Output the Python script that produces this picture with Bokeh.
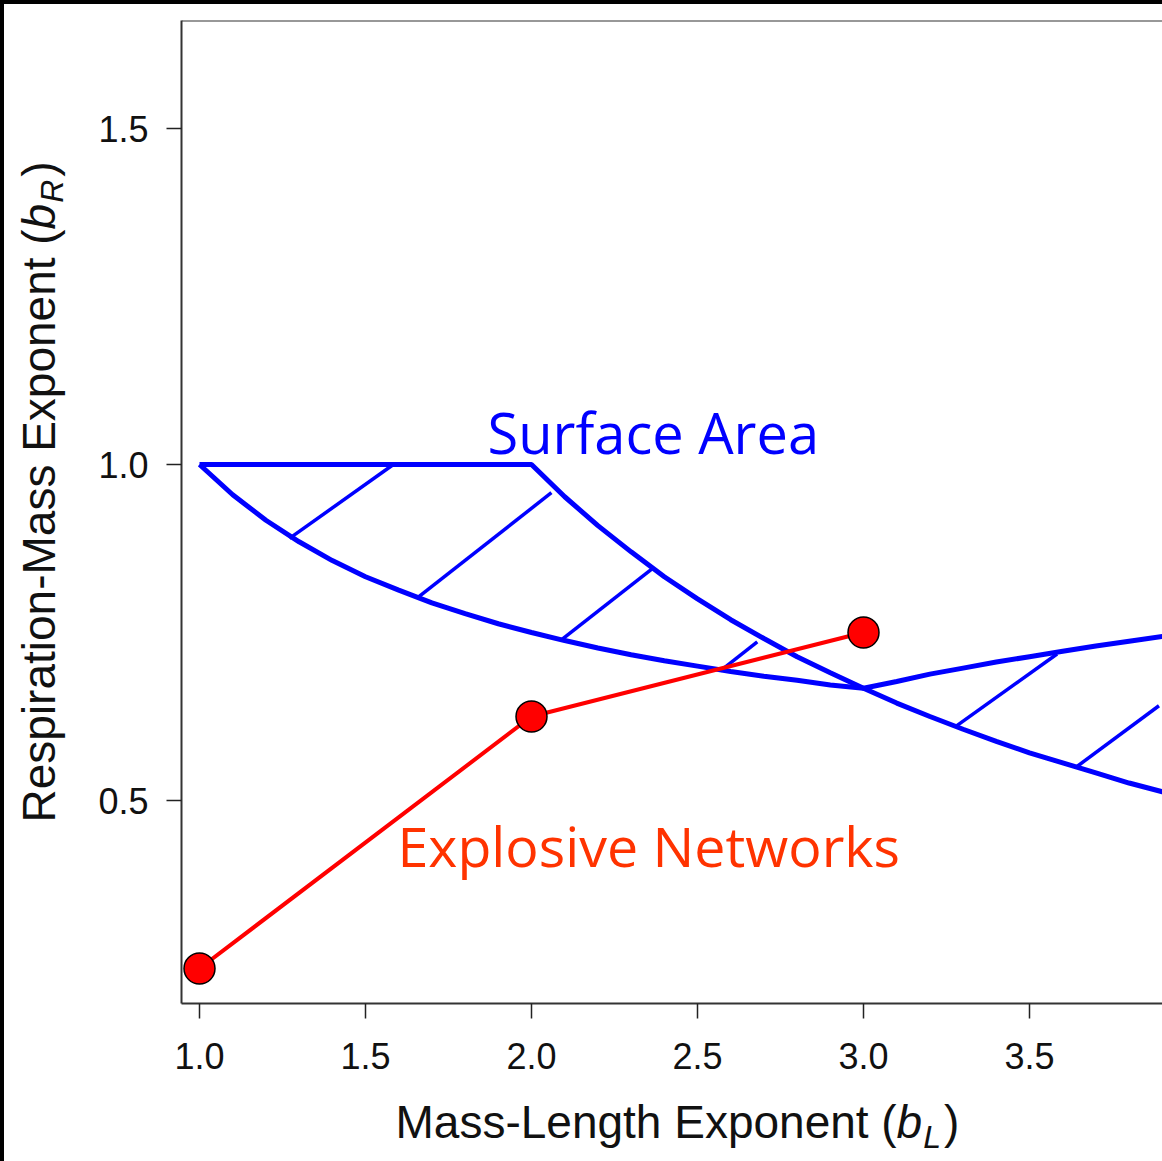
from bokeh.plotting import figure
from bokeh.models import Range1d, FixedTicker, PrintfTickFormatter, Label, Span, Div
from bokeh.layouts import column, row
from bokeh.embed import file_html
from bokeh.resources import INLINE
import math

# ---------------- data ----------------
net_x = [1.0, 2.0, 3.0]
net_y = [0.25, 0.625, 0.75]

# upper boundary of the surface-area band
upper_x = [1.0, 2.0, 2.1, 2.2, 2.3, 2.4, 2.5, 2.6, 2.7, 2.8, 2.9, 3.0,
           3.1, 3.2, 3.3, 3.4, 3.5, 3.6, 3.7, 3.8, 3.9, 4.0]
upper_y = [1.000, 1.000, 0.952, 0.909, 0.870, 0.833, 0.800, 0.769, 0.741, 0.714, 0.690, 0.667,
           0.645, 0.625, 0.606, 0.588, 0.571, 0.556, 0.541, 0.526, 0.513, 0.500]

# lower boundary of the surface-area band
lower_x = [1.0, 1.1, 1.2, 1.3, 1.4, 1.5, 1.6, 1.7, 1.8, 1.9, 2.0,
           2.1, 2.2, 2.3, 2.4, 2.5, 2.6, 2.7, 2.8, 2.9, 3.0,
           3.1, 3.2, 3.3, 3.4, 3.5, 3.6, 3.7, 3.8, 3.9, 4.0]
lower_y = [1.000, 0.955, 0.917, 0.885, 0.857, 0.833, 0.813, 0.794, 0.778, 0.763, 0.750,
           0.738, 0.727, 0.717, 0.708, 0.700, 0.692, 0.685, 0.679, 0.672, 0.667,
           0.677, 0.688, 0.697, 0.706, 0.714, 0.722, 0.730, 0.737, 0.744, 0.750]

# hatch strokes inside the band
hatch_x0 = [1.271, 1.657, 2.087, 2.569, 3.277, 3.644]
hatch_y0 = [0.890, 0.802, 0.738, 0.693, 0.610, 0.551]
hatch_x1 = [1.584, 2.060, 2.364, 2.680, 3.583, 3.890]
hatch_y1 = [1.000, 0.958, 0.845, 0.736, 0.718, 0.641]

x_ticks = [1.0, 1.5, 2.0, 2.5, 3.0, 3.5]
y_ticks = [0.5, 1.0, 1.5]

# ---------------- layout helpers (page pixel -> data) ----------------
def px2x(px):
    return 1.0 + (px - 199.0) / 332.0

def px2y(py):
    return 1.0 - (py - 464.0) / 672.0

PAGE_W, PAGE_H = 1162, 1161
BAR = 4            # black bars on top and left
MAIN_LEFT = 88     # x where the main figure starts
MAIN_BOTTOM = 1085 # y where the main figure ends
FRAME_L, FRAME_T, FRAME_B = 181, 20, 1003

BLACK = "#000000"
BLUE = "#0000FF"
RED = "#FF0000"
AX = "#333333"
TC = "#111111"

def blank(w, h, xr, yr):
    f = figure(width=w, height=h, output_backend="svg", toolbar_location=None,
               x_axis_type=None, y_axis_type=None,
               x_range=Range1d(*xr), y_range=Range1d(*yr),
               min_border=0, min_border_left=0, min_border_right=0,
               min_border_top=0, min_border_bottom=0)
    f.grid.visible = False
    f.outline_line_color = None
    f.background_fill_color = "white"
    f.border_fill_color = "white"
    return f

# ---------------- main plot ----------------
mw, mh = PAGE_W - MAIN_LEFT, MAIN_BOTTOM - BAR
p = figure(width=mw, height=mh, output_backend="svg", toolbar_location=None,
           x_range=Range1d(px2x(FRAME_L), px2x(PAGE_W)),
           y_range=Range1d(px2y(FRAME_B), px2y(FRAME_T)),
           min_border_left=FRAME_L - MAIN_LEFT, min_border_right=0,
           min_border_top=FRAME_T - BAR, min_border_bottom=MAIN_BOTTOM - FRAME_B)
p.grid.visible = False
p.outline_line_color = None
p.background_fill_color = "white"
p.border_fill_color = "white"

for ax in (p.xaxis[0], p.yaxis[0]):
    ax.axis_line_color = AX
    ax.axis_line_width = 2
    ax.major_tick_line_color = "#222222"
    ax.major_tick_line_width = 1.5
    ax.major_tick_out = 15
    ax.major_tick_in = 0
    ax.minor_tick_line_color = None
    ax.major_label_text_font = "Liberation Sans"
    ax.major_label_text_font_size = "36px"
    ax.major_label_text_color = TC
    ax.formatter = PrintfTickFormatter(format="%.1f")

p.xaxis[0].ticker = FixedTicker(ticks=x_ticks)
p.yaxis[0].ticker = FixedTicker(ticks=y_ticks)
p.xaxis[0].major_label_standoff = 24
p.yaxis[0].major_label_standoff = 18

# top frame edge
p.add_layout(Span(location=px2y(FRAME_T), dimension="width", line_color=AX, line_width=2))

p.line(upper_x, upper_y, line_color=BLUE, line_width=5)
p.line(lower_x, lower_y, line_color=BLUE, line_width=5)
p.segment(x0=hatch_x0, y0=hatch_y0, x1=hatch_x1, y1=hatch_y1, line_color=BLUE, line_width=3.5)

p.line(net_x, net_y, line_color=RED, line_width=4)
p.scatter(net_x, net_y, marker="circle", size=31, fill_color=RED,
          line_color="black", line_width=1.5)

SHIFT = 0.41  # em offset between requested and drawn alphabetic baseline

p.add_layout(Label(x=px2x(487), y=px2y(454 - SHIFT * 56), text="Surface Area", text_font="Open Sans",
                   text_font_size="56px", text_color=BLUE, text_align="left",
                   text_baseline="alphabetic"))
p.add_layout(Label(x=px2x(397), y=px2y(868 - SHIFT * 55.5), text="Explosive Networks", text_font="Open Sans",
                   text_font_size="55.5px", text_color="#FF3300", text_align="left",
                   text_baseline="alphabetic"))

# ---------------- axis titles ----------------
FS = 46
SUB = 32

def lab(f, x, y, t, size, style="normal", angle=0.0):
    f.add_layout(Label(x=x, y=y, text=t, text_font="Liberation Sans",
                       text_font_size=f"{size}px", text_font_style=style,
                       text_color=TC, text_align="left", text_baseline="alphabetic",
                       angle=angle))

# y title figure: its frame is aligned with the main frame (page y 20..1003)
yfig = blank(MAIN_LEFT - BAR, mh, (BAR, MAIN_LEFT), (-FRAME_B, -FRAME_T))
A = math.pi / 2
base_x = 57
sub_x = 65
y0 = 822.0
by = y0 - 12.893 * FS
ry = by - 0.556 * FS - 1
cy = ry - 0.722 * SUB - 3
lab(yfig, base_x - SHIFT * FS, -y0, "Respiration-Mass Exponent (", FS, angle=A)
lab(yfig, base_x - SHIFT * FS, -by, "b", FS, "italic", angle=A)
lab(yfig, sub_x - SHIFT * SUB, -ry, "R", SUB, "italic", angle=A)
lab(yfig, base_x - SHIFT * FS, -cy, ")", FS, angle=A)

# x title figure
xh = PAGE_H - MAIN_BOTTOM
xfig = blank(PAGE_W - BAR, xh, (BAR, PAGE_W), (-PAGE_H, -MAIN_BOTTOM))
x0 = 395.0
bx = x0 + 10.894 * FS
lx = bx + 0.556 * FS + 1
rx = lx + 0.556 * SUB + 3
base_y = 1140
sub_y = 1150
lab(xfig, x0, -(base_y - SHIFT * FS), "Mass-Length Exponent (", FS)
lab(xfig, bx, -(base_y - SHIFT * FS), "b", FS, "italic")
lab(xfig, lx, -(sub_y - SHIFT * SUB), "L", SUB, "italic")
lab(xfig, rx, -(base_y - SHIFT * FS), ")", FS)

left_bar = Div(text="", width=BAR, height=PAGE_H, margin=0,
               styles={"background-color": BLACK})
top_bar = Div(text="", width=PAGE_W - BAR, height=BAR, margin=0,
              styles={"background-color": BLACK})

layout = row(left_bar,
             column(top_bar, row(yfig, p, spacing=0), xfig, spacing=0),
             spacing=0)

open("out.html", "w").write(file_html(layout, INLINE))
